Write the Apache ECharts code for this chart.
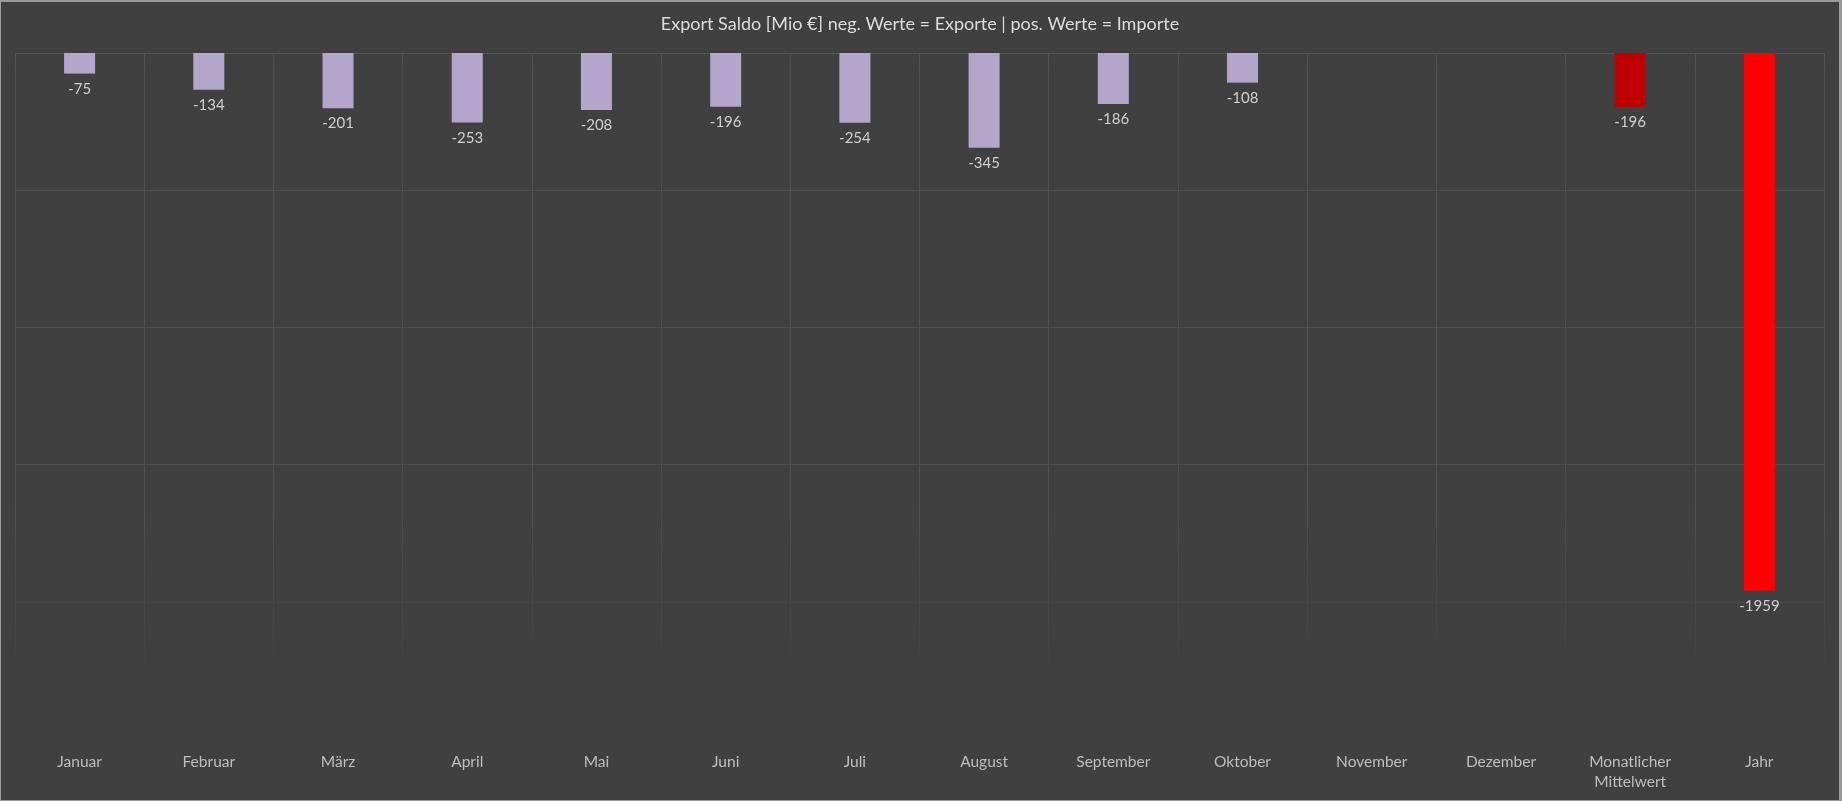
<!DOCTYPE html>
<html>
<head>
<meta charset="utf-8">
<script src="https://cdn.jsdelivr.net/npm/echarts@6/dist/echarts.min.js"></script>
<style>
html,body{margin:0;padding:0;background:#404040;}
#c{width:1842px;height:801px;box-sizing:border-box;border:1px solid #9a9a9a;border-right-width:3px;border-top-width:2px;}
</style>
</head>
<body>
<div id="c"></div>
<script>
const titleText = 'Export Saldo [Mio €] neg. Werte = Exporte | pos. Werte = Importe';
const categories = ['Januar','Februar','März','April','Mai','Juni','Juli','August','September','Oktober','November','Dezember','Monatlicher Mittelwert','Jahr'];
const values = [-75,-134,-201,-253,-208,-196,-254,-345,-186,-108,null,null,-196,-1959];
const yMin = -2500, yMax = 0, yStep = 500;

const chart = echarts.init(document.getElementById('c'), null, {renderer:'canvas'});
const fontFam = 'Lato, "Noto Sans", sans-serif';
const gridLineColor = new echarts.graphic.LinearGradient(0, 0, 0, 801, [
  {offset:0, color:'rgba(88,88,88,1)'},
  {offset:0.1, color:'rgba(80,80,80,1)'},
  {offset:0.62, color:'rgba(80,80,80,1)'},
  {offset:0.78, color:'rgba(74,74,74,0.6)'},
  {offset:0.88, color:'rgba(64,64,64,0)'}
], true);
function barColor(p){
  if (p.dataIndex === 13) return '#ff0000';
  if (p.dataIndex === 12) return '#c00000';
  return '#b4a5ca';
}
chart.setOption({
  backgroundColor:'#404040',
  animation:false,
  title:{text:titleText, left:'center', top:8,
    textStyle:{color:'#dcdcdc', fontSize:18, fontWeight:'normal', fontFamily:fontFam}},
  grid:{left:14, right:15, top:51, bottom:61, containLabel:false},
  xAxis:{type:'category', data:categories, boundaryGap:true,
    axisLine:{show:false}, axisTick:{show:false},
    splitLine:{show:true, interval:0, lineStyle:{color:gridLineColor, width:1}},
    axisLabel:{interval:0, color:'#bdbdbd', fontSize:15.5, fontFamily:fontFam, margin:13, lineHeight:20,
      formatter: v => v.replace(' ', '\n')}},
  yAxis:{type:'value', min:yMin, max:yMax, interval:yStep,
    axisLabel:{show:false}, axisLine:{show:false}, axisTick:{show:false},
    splitLine:{show:true, lineStyle:{color:gridLineColor, width:1}}},
  series:[{type:'bar', data:values, barWidth:'24%',
    itemStyle:{color:barColor},
    label:{show:true, position:'bottom', distance:8, color:'#cfcfcf', fontSize:15, fontFamily:fontFam}}]
});
</script>
</body>
</html>
